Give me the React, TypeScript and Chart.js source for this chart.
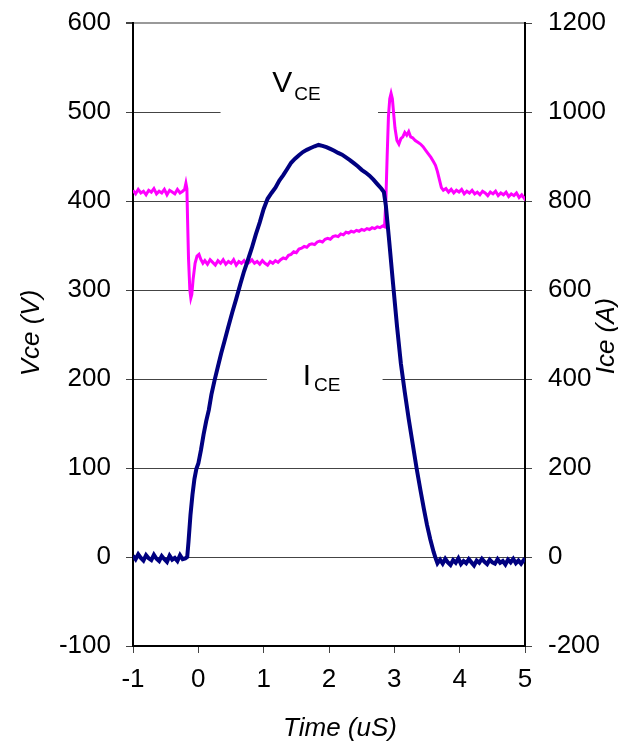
import { useEffect, useRef } from "react";
import { Chart, registerables } from "chart.js";

Chart.register(...registerables);

const xTicks = [-1, 0, 1, 2, 3, 4, 5];
const vceTicks = [-100, 0, 100, 200, 300, 400, 500, 600];
const iceTicks = [-200, 0, 200, 400, 600, 800, 1000, 1200];

const xTitle = "Time (uS)";
const vceTitle = "Vce (V)";
const iceTitle = "Ice (A)";

const vceTime = [
  -1.0, -0.96, -0.92, -0.88, -0.84, -0.8, -0.76, -0.72, -0.68, -0.64, -0.6, -0.56, -0.52, -0.48, -0.44, -0.4,
  -0.36, -0.32, -0.28, -0.24, -0.21, -0.19, -0.175, -0.165, -0.15, -0.13, -0.115, -0.1, -0.08, -0.05, -0.02,
  0.01, 0.04, 0.07, 0.1, 0.14, 0.18, 0.22, 0.26, 0.3, 0.34, 0.38, 0.42, 0.46, 0.5, 0.54, 0.58, 0.62, 0.66, 0.7,
  0.74, 0.78, 0.82, 0.86, 0.9, 0.94, 0.98, 1.02, 1.06, 1.1, 1.14, 1.18, 1.22, 1.26, 1.3, 1.34, 1.38, 1.42, 1.46,
  1.5, 1.54, 1.58, 1.62, 1.66, 1.7, 1.74, 1.78, 1.82, 1.86, 1.9, 1.94, 1.98, 2.02, 2.06, 2.1, 2.14, 2.18, 2.22,
  2.26, 2.3, 2.34, 2.38, 2.42, 2.46, 2.5, 2.54, 2.58, 2.62, 2.66, 2.7, 2.74, 2.78, 2.82, 2.85, 2.87, 2.89, 2.91,
  2.93, 2.95, 2.97, 2.99, 3.01, 3.04, 3.07, 3.1, 3.13, 3.16, 3.19, 3.22, 3.25, 3.28, 3.32, 3.36, 3.4, 3.44, 3.48,
  3.52, 3.56, 3.6, 3.63, 3.66, 3.69, 3.72, 3.75, 3.79, 3.83, 3.87, 3.91, 3.95, 3.99, 4.03, 4.07, 4.11, 4.15, 4.19,
  4.23, 4.27, 4.31, 4.35, 4.39, 4.43, 4.47, 4.51, 4.55, 4.59, 4.63, 4.67, 4.71, 4.75, 4.79, 4.83, 4.87, 4.91,
  4.95, 4.99, 5.0,
];
const vceValues = [
  412, 408, 413, 409, 411, 407, 412, 410, 414, 408, 411, 409, 413, 407, 412, 410,
  408, 413, 409, 411, 413, 420, 414, 380, 335, 300, 291, 295, 312, 330, 338,
  340, 334, 330, 333, 329, 334, 331, 328, 333, 330, 334, 329, 332, 330, 334, 328, 332, 330, 333,
  329, 331, 334, 330, 332, 329, 333, 330, 328, 332, 330, 333, 331, 334, 336, 335, 339, 340, 343,
  342, 346, 347, 349, 348, 351, 352, 351, 354, 355, 354, 357, 358, 357, 360, 361, 360, 363, 362,
  365, 364, 366, 365, 367, 366, 368, 367, 369, 368, 370, 369, 371, 370, 372, 371, 400, 450, 495,
  515, 521, 515, 498, 482, 468, 464, 470, 472, 477, 474, 478, 472, 471, 468, 466, 464, 461, 457,
  453, 449, 444, 440, 433, 424, 415, 412, 414, 410, 413, 409, 412, 410, 413, 408, 411, 409, 412,
  408, 410, 407, 411, 409, 406, 410, 408, 411, 406, 409, 407, 410, 405, 408, 406, 409, 404,
  407, 403, 405,
];

const iceTime = [
  -1.0, -0.96, -0.92, -0.88, -0.84, -0.8, -0.76, -0.72, -0.68, -0.64, -0.6, -0.56, -0.52, -0.48, -0.44, -0.4,
  -0.36, -0.32, -0.28, -0.24, -0.2, -0.17, -0.15, -0.12, -0.09, -0.06, -0.03, 0.0, 0.04, 0.08, 0.12, 0.16, 0.2,
  0.25, 0.3, 0.35, 0.4, 0.46, 0.52, 0.58, 0.64, 0.7, 0.76, 0.82, 0.88, 0.94, 1.0, 1.06, 1.12, 1.18, 1.24, 1.3,
  1.36, 1.42, 1.48, 1.54, 1.6, 1.66, 1.72, 1.78, 1.84, 1.9, 1.96, 2.02, 2.08, 2.14, 2.2, 2.26, 2.32, 2.38, 2.44,
  2.5, 2.56, 2.62, 2.68, 2.74, 2.8, 2.84, 2.87, 2.92, 2.98, 3.04, 3.1, 3.16, 3.22, 3.28, 3.34, 3.4, 3.45, 3.5,
  3.55, 3.6, 3.63, 3.66, 3.7, 3.74, 3.78, 3.82, 3.86, 3.9, 3.94, 3.98, 4.02, 4.06, 4.1, 4.14, 4.18, 4.22, 4.26,
  4.3, 4.34, 4.38, 4.42, 4.46, 4.5, 4.54, 4.58, 4.62, 4.66, 4.7, 4.74, 4.78, 4.82, 4.86, 4.9, 4.94, 4.98, 5.0,
];
const iceValues = [
  3, -5, 6, -2, -8, 4, -3, -7, 5, -4, -9, 2, -5, -11, 3, -6,
  -2, -9, 4, -5, -3, 0, 35, 95, 140, 175, 198, 210, 240, 275, 305, 330, 365,
  398, 428, 458, 485, 518, 550, 580, 612, 642, 668, 695, 725, 752, 782, 805, 818, 830, 846, 858,
  872, 886, 895, 903, 910, 915, 919, 923, 926, 924, 921, 917, 913, 908, 904, 898, 892, 885, 878,
  870, 864, 857, 848, 838, 828, 820, 790, 712, 615, 520, 435, 370, 310, 255, 200, 150, 110, 72,
  40, 12, -2, -14, -6, -15, -4, -12, -18, -7, -13, -3, -16, -9, -14, -5, -12, -19, -8,
  -13, -4, -11, -16, -6, -12, -15, -5, -13, -9, -17, -6, -12, -4, -14, -8, -15, -7, -10,
];

const FONT = "'Liberation Sans', Arial, sans-serif";

const labelPlugin = {
  id: "waveLabels",
  beforeDatasetsDraw(chart: any) {
    const { ctx, scales } = chart;
    const xs = scales.x;
    const ys = scales.y;
    ctx.save();
    ctx.fillStyle = "#ffffff";
    const bx1 = xs.getPixelForValue(0.34);
    const bx2 = xs.getPixelForValue(2.75);
    const by1 = ys.getPixelForValue(545);
    const by2 = ys.getPixelForValue(490);
    ctx.fillRect(bx1, by1, bx2 - bx1, by2 - by1);
    const cx1 = xs.getPixelForValue(1.05);
    const cx2 = xs.getPixelForValue(2.82);
    const cy1 = ys.getPixelForValue(222);
    const cy2 = ys.getPixelForValue(175);
    ctx.fillRect(cx1, cy1, cx2 - cx1, cy2 - cy1);

    ctx.fillStyle = "#000000";
    ctx.textAlign = "left";
    ctx.textBaseline = "alphabetic";
    ctx.font = `30px ${FONT}`;
    ctx.fillText("V", xs.getPixelForValue(1.13), ys.getPixelForValue(522));
    ctx.font = `19px ${FONT}`;
    ctx.fillText("CE", xs.getPixelForValue(1.47), ys.getPixelForValue(514));
    ctx.font = `30px ${FONT}`;
    ctx.fillText("I", xs.getPixelForValue(1.6), ys.getPixelForValue(193));
    ctx.font = `19px ${FONT}`;
    ctx.fillText("CE", xs.getPixelForValue(1.77), ys.getPixelForValue(186));
    ctx.restore();
  },
  afterDraw(chart: any) {
    const { ctx } = chart;
    ctx.save();
    ctx.fillStyle = "#000000";
    ctx.font = `italic 26px ${FONT}`;
    ctx.textAlign = "center";
    ctx.textBaseline = "alphabetic";
    ctx.fillText(xTitle, 340, 736);

    ctx.save();
    ctx.translate(39, 333);
    ctx.rotate(-Math.PI / 2);
    ctx.fillText(vceTitle, 0, 0);
    ctx.restore();

    ctx.save();
    ctx.translate(614, 336);
    ctx.rotate(-Math.PI / 2);
    ctx.fillText(iceTitle, 0, 0);
    ctx.restore();
    ctx.restore();
  },
};

const zeroPad = (s: any) => {
  s.paddingTop = 0;
  s.paddingBottom = 0;
  s.paddingLeft = 0;
  s.paddingRight = 0;
};

export default function App() {
  const canvasRef = useRef<HTMLCanvasElement | null>(null);

  useEffect(() => {
    const canvas = canvasRef.current;
    if (!canvas) return;
    const tickFont = { family: FONT, size: 26 };
    const plain = (v: any) => String(v);
    const chart = new Chart(canvas, {
      type: "line",
      data: {
        datasets: [
          {
            label: "Ice",
            data: iceTime.map((t, i) => ({ x: t, y: iceValues[i] })),
            yAxisID: "y2",
            borderColor: "#000080",
            borderWidth: 4,
            pointRadius: 0,
            tension: 0,
          },
          {
            label: "Vce",
            data: vceTime.map((t, i) => ({ x: t, y: vceValues[i] })),
            yAxisID: "y",
            borderColor: "#FF00FF",
            borderWidth: 3,
            pointRadius: 0,
            tension: 0,
          },
        ],
      },
      options: {
        responsive: false,
        maintainAspectRatio: false,
        animation: false,
        devicePixelRatio: 1,
        layout: { padding: { top: 23, left: 0, right: 0, bottom: 0 } },
        plugins: { legend: { display: false }, tooltip: { enabled: false }, title: { display: false } },
        scales: {
          x: {
            type: "linear",
            min: -1,
            max: 5,
            afterBuildTicks: (s: any) => {
              s.ticks = xTicks.map((v) => ({ value: v }));
            },
            afterFit: (s: any) => {
              s.height = 96;
              zeroPad(s);
            },
            grid: { drawOnChartArea: false, drawTicks: true, tickLength: 7, color: "#444444", lineWidth: 1 },
            border: { color: "#000000", width: 2 },
            ticks: { font: tickFont, color: "#000000", padding: 11, maxRotation: 0, autoSkip: false, callback: plain },
          },
          y: {
            type: "linear",
            position: "left",
            min: -100,
            max: 600,
            afterBuildTicks: (s: any) => {
              s.ticks = vceTicks.map((v) => ({ value: v }));
            },
            afterFit: (s: any) => {
              s.width = 133;
              zeroPad(s);
            },
            grid: {
              color: (c: any) => (c.tick && c.tick.value === 600 ? "#999999" : "#444444"),
              lineWidth: (c: any) => (c.tick && c.tick.value === 600 ? 2 : 1),
              tickColor: "#444444",
              tickLength: 7,
              drawTicks: true,
            },
            border: { color: "#000000", width: 2 },
            ticks: { font: tickFont, color: "#000000", padding: 15, autoSkip: false, callback: plain },
          },
          y2: {
            type: "linear",
            position: "right",
            min: -200,
            max: 1200,
            afterBuildTicks: (s: any) => {
              s.ticks = iceTicks.map((v) => ({ value: v }));
            },
            afterFit: (s: any) => {
              s.width = 93;
              zeroPad(s);
            },
            grid: { drawOnChartArea: false, drawTicks: true, tickLength: 7, color: "#444444" },
            border: { color: "#000000", width: 2 },
            ticks: { font: tickFont, color: "#000000", padding: 16, autoSkip: false, callback: plain },
          },
        },
      },
      plugins: [labelPlugin],
    } as any);
    return () => chart.destroy();
  }, []);

  return (
    <div style={{ position: "absolute", left: 0, top: 0, width: 618, height: 742, background: "#fff" }}>
      <canvas ref={canvasRef} width={618} height={742} style={{ display: "block", width: 618, height: 742 }} />
    </div>
  );
}
